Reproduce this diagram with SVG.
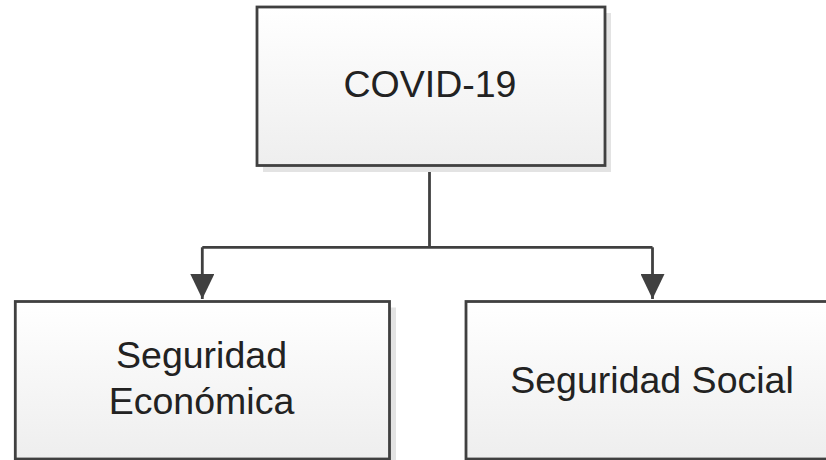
<svg xmlns="http://www.w3.org/2000/svg" width="826" height="460" viewBox="0 0 826 460">
  <defs>
    <linearGradient id="boxFill" x1="0" y1="0" x2="0" y2="1">
      <stop offset="0" stop-color="#ffffff"/>
      <stop offset="1" stop-color="#eeeeee"/>
    </linearGradient>
    <marker id="arrow" markerUnits="userSpaceOnUse" markerWidth="26" markerHeight="24" refX="25" refY="12" orient="auto" viewBox="0 0 26 24">
      <path d="M0,0 L25,12 L0,24 Z" fill="#404040"/>
    </marker>
    <style>
      .shadow { fill: #e3e3e3; }
      .box { fill: url(#boxFill); stroke: #404040; stroke-width: 2.8; }
      .label { font-family: "Liberation Sans", Arial, sans-serif; font-size: 37.5px; fill: #222222; text-anchor: middle; }
      .conn { fill: none; stroke: #404040; stroke-width: 2.8; }
    </style>
  </defs>

  <g id="connectors">
    <path class="conn" d="M429.5,165.5 V247.3"/>
    <path class="conn" d="M202.3,247.3 H652.5"/>
    <path class="conn" d="M202.3,247.3 V299" marker-end="url(#arrow)"/>
    <path class="conn" d="M652.5,247.3 V299" marker-end="url(#arrow)"/>
  </g>

  <g id="node-covid">
    <rect class="shadow" x="263" y="13" width="348" height="159"/>
    <rect class="box" x="257" y="7" width="348" height="158.5"/>
    <text class="label" x="430" y="97">COVID-19</text>
  </g>

  <g id="node-economica">
    <rect class="shadow" x="21" y="307.5" width="375" height="160"/>
    <rect class="box" x="15.3" y="301.5" width="374.2" height="157.5"/>
    <text class="label" x="201.5" y="368">Seguridad</text>
    <text class="label" x="201.5" y="414">Económica</text>
  </g>

  <g id="node-social">
    <rect class="shadow" x="472" y="307.5" width="375" height="160"/>
    <rect class="box" x="466" y="301.5" width="374.2" height="157.5"/>
    <text class="label" x="652" y="392.5">Seguridad Social</text>
  </g>
</svg>
